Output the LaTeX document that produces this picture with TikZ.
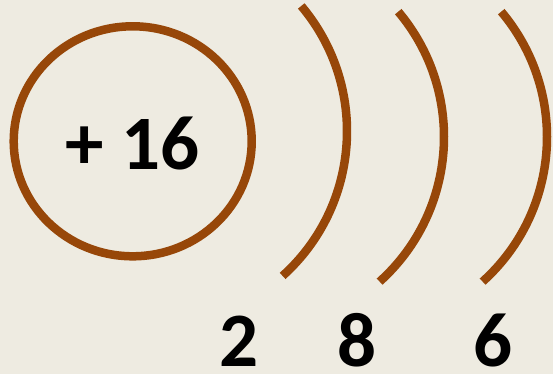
\documentclass[tikz,border=0pt]{standalone}
\usepackage{fontspec}
\setmainfont{Carlito}
\definecolor{paper}{HTML}{EEEBE1}
\definecolor{rust}{HTML}{974709}

\begin{document}
\begin{tikzpicture}[
  x=1pt, y=1pt,
  shell/.style={draw=rust, line width=8.5pt},
  charge/.style={font=\fontsize{77}{80}\selectfont\bfseries, anchor=base, inner sep=0pt},
  count/.style={charge}]

% ---------- background
\fill[paper] (0,0) rectangle (553,374);
\useasboundingbox (0,0) rectangle (553,374);

% ---------- nucleus
\draw[shell] (132.7,232.7) ellipse [x radius=119, y radius=115];
\node[charge] (core) at (132.5,204) {+ 16};

% ---------- shells (one arc shape, given by its rightmost point)
\foreach \x/\y in {347/242.7, 444/237, 547/237}
  \draw[shell] (\x-194.6,\y) ++(40.1:194.6) arc[start angle=40.1, end angle=-48, radius=194.6];

% ---------- electrons per shell
\node[count] (nk) at (239,8) {2};
\node[count] (nl) at (357,8) {8};
\node[count] (nm) at (493,8) {6};
\end{tikzpicture}
\end{document}
